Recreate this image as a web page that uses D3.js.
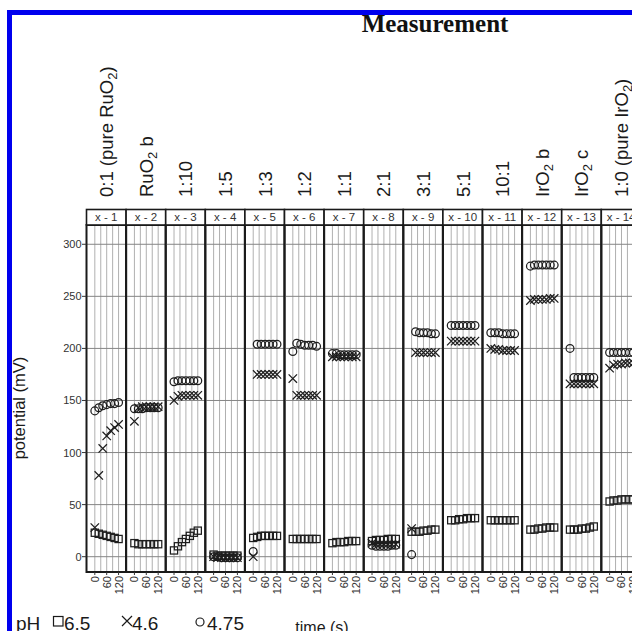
<!DOCTYPE html>
<html>
<head>
<meta charset="utf-8">
<script src="https://cdn.jsdelivr.net/npm/d3@7"></script>
<style>
html,body{margin:0;padding:0;background:#fff;overflow:hidden;}
svg{display:block;}
</style>
</head>
<body>
<svg id="chart" width="632" height="631"></svg>
<script>
// ---- data ----
const panels = ["x - 1","x - 2","x - 3","x - 4","x - 5","x - 6","x - 7","x - 8","x - 9","x - 10","x - 11","x - 12","x - 13","x - 14"];
const ratioLabels = ["0:1 (pure RuO_2)","RuO_2 b","1:10","1:5","1:3","1:2","1:1","2:1","3:1","5:1","10:1","IrO_2 b","IrO_2 c","1:0 (pure IrO_2)"];
const times = [0, 20, 40, 60, 80, 100, 120];
const timeTicks = [0, 60, 120];
const timeGrid = [0, 30, 60, 90, 120];
const yTicks = [0, 50, 100, 150, 200, 250, 300];
// pH 6.5 (squares)
const pH65 = [
  [23, 22, 21, 20, 19, 18, 17],
  [13, 12, 12, 12, 12, 12, 12],
  [6, 10, 14, 17, 20, 23, 25],
  [2, 1, 1, 1, 1, 1, 1],
  [18, 19, 20, 20, 20, 20, 20],
  [17, 17, 17, 17, 17, 17, 17],
  [13, 14, 14, 14, 15, 15, 15],
  [15, 16, 16, 16, 17, 17, 17],
  [24, 24, 24, 25, 25, 26, 26],
  [35, 35, 36, 36, 37, 37, 37],
  [35, 35, 35, 35, 35, 35, 35],
  [26, 26, 27, 27, 28, 28, 28],
  [26, 26, 26, 27, 27, 28, 29],
  [53, 54, 54, 55, 55, 55, 55]
];
// pH 4.6 (crosses)
const pH46 = [
  [28, 78, 104, 116, 121, 124, 127],
  [130, 143, 144, 144, 144, 144, 144],
  [150, 154, 155, 155, 155, 155, 155],
  [0, -1, -1, -1, -1, -1, -1],
  [0, 175, 175, 175, 175, 175, 175],
  [171, 155, 155, 155, 155, 155, 155],
  [192, 192, 192, 192, 192, 192, 192],
  [13, 12, 12, 12, 12, 12, 12],
  [27, 196, 196, 196, 196, 196, 196],
  [207, 207, 207, 207, 207, 207, 207],
  [200, 199, 199, 198, 198, 198, 198],
  [246, 247, 247, 247, 247, 248, 248],
  [166, 166, 166, 166, 166, 166, 166],
  [181, 184, 185, 185, 186, 186, 186]
];
// pH 4.75 (circles)
const pH475 = [
  [140, 143, 145, 146, 147, 147, 148],
  [142, 142, 142, 143, 143, 143, 143],
  [168, 169, 169, 169, 169, 169, 169],
  [0, 0, -1, -1, -1, -1, -1],
  [5, 204, 204, 204, 204, 204, 204],
  [197, 205, 204, 203, 203, 203, 202],
  [195, 195, 194, 194, 194, 194, 194],
  [11, 10, 10, 10, 10, 11, 11],
  [2, 216, 215, 215, 215, 214, 214],
  [222, 222, 222, 222, 222, 222, 222],
  [215, 215, 215, 214, 214, 214, 214],
  [279, 280, 280, 280, 280, 280, 280],
  [200, 172, 172, 172, 172, 172, 172],
  [196, 196, 196, 196, 196, 196, 196]
];
const legendItems = [
  {label: "6.5", shape: "square"},
  {label: "4.6", shape: "cross"},
  {label: "4.75", shape: "circle"}
];

// ---- drawing ----
const svg = d3.select("#chart");
const plotTop = 225, plotBottom = 572, stripTop = 209.5;
const px = d3.scaleBand().domain(panels).range([86.5, 86.5 + 14 * 39.6]).padding(0);
const pw = px.bandwidth();
const xs = d3.scaleLinear().domain([-42, 158]).range([0, pw]);
const y = d3.scaleLinear().domain([-14.7, 318.5]).range([plotBottom, plotTop]);
const ink = "#1e1e1e";
const sans = "Liberation Sans, Arial, sans-serif";

// blue frame
svg.append("rect").attr("x", 9.5).attr("y", 12.5).attr("width", 700).attr("height", 700)
  .attr("fill", "none").attr("stroke", "#0000ee").attr("stroke-width", 5);

// title
svg.append("text").attr("x", 435).attr("y", 32).attr("text-anchor", "middle")
  .attr("font-family", "Liberation Serif, Times New Roman, serif").attr("font-weight", "bold")
  .attr("font-size", 25).attr("fill", "#111").text("Measurement");

const series = [
  {data: pH65, shape: "square"},
  {data: pH46, shape: "cross"},
  {data: pH475, shape: "circle"}
];

function drawMarker(g, shape, cx, cy) {
  if (shape === "square") {
    g.append("rect").attr("x", cx - 3.6).attr("y", cy - 3.6).attr("width", 7.2).attr("height", 7.2)
      .attr("fill", "none").attr("stroke", ink).attr("stroke-width", 1.25);
  } else if (shape === "cross") {
    const r = 4.2;
    g.append("path").attr("d", `M${cx - r},${cy - r}L${cx + r},${cy + r}M${cx - r},${cy + r}L${cx + r},${cy - r}`)
      .attr("fill", "none").attr("stroke", ink).attr("stroke-width", 1.25);
  } else {
    g.append("circle").attr("cx", cx).attr("cy", cy).attr("r", 3.9)
      .attr("fill", "none").attr("stroke", ink).attr("stroke-width", 1.25);
  }
}

panels.forEach((p, i) => {
  const x0 = px(p);
  const g = svg.append("g").attr("transform", `translate(${x0},0)`);
  // grid
  timeGrid.forEach(t => {
    g.append("line").attr("x1", xs(t)).attr("x2", xs(t)).attr("y1", plotTop).attr("y2", plotBottom)
      .attr("stroke", "#b0b0b0").attr("stroke-width", 1);
  });
  yTicks.forEach(v => {
    g.append("line").attr("x1", 0).attr("x2", pw).attr("y1", y(v)).attr("y2", y(v))
      .attr("stroke", "#858585").attr("stroke-width", 1);
  });
  // data
  series.forEach(s => {
    s.data[i].forEach((v, k) => drawMarker(g, s.shape, xs(times[k]), y(v)));
  });
  // panel frame
  g.append("rect").attr("x", 0).attr("y", plotTop).attr("width", pw).attr("height", plotBottom - plotTop)
    .attr("fill", "none").attr("stroke", "#1a1a1a").attr("stroke-width", 2);
  // strip
  g.append("rect").attr("x", 0).attr("y", stripTop).attr("width", pw).attr("height", plotTop - stripTop)
    .attr("fill", "#fff").attr("stroke", "#1a1a1a").attr("stroke-width", 1.6);
  g.append("text").attr("x", pw / 2).attr("y", (stripTop + plotTop) / 2).attr("dy", "0.36em")
    .attr("text-anchor", "middle").attr("font-family", sans)
    .attr("font-size", 11.5).attr("fill", "#333").text(p);
  // x ticks
  timeTicks.forEach(t => {
    g.append("line").attr("x1", xs(t)).attr("x2", xs(t)).attr("y1", plotBottom).attr("y2", plotBottom + 3)
      .attr("stroke", "#333").attr("stroke-width", 1);
    g.append("text").attr("transform", `translate(${xs(t)},${plotBottom + 4}) rotate(-90)`)
      .attr("dy", "0.36em").attr("text-anchor", "end")
      .attr("font-family", sans).attr("font-size", 11).attr("fill", "#333")
      .text(t);
  });
  // ratio label
  const lab = g.append("text").attr("transform", `translate(${pw / 2 + 6.8},197) rotate(-90)`)
    .attr("text-anchor", "start").attr("font-family", sans)
    .attr("font-size", 18.5).attr("fill", "#1a1a1a");
  const parts = ratioLabels[i].split("_2");
  parts.forEach((part, j) => {
    lab.append("tspan").attr("dy", j > 0 ? -4 : null).text(part);
    if (j < parts.length - 1) lab.append("tspan").attr("font-size", 13).attr("dy", 4).text("2");
  });
});

// y axis
const yAxis = svg.append("g");
yTicks.forEach(v => {
  yAxis.append("line").attr("x1", 82).attr("x2", 86.5).attr("y1", y(v)).attr("y2", y(v))
    .attr("stroke", "#333").attr("stroke-width", 1);
  yAxis.append("text").attr("x", 81.5).attr("y", y(v)).attr("dy", "0.36em").attr("text-anchor", "end")
    .attr("font-family", sans).attr("font-size", 11).attr("fill", "#333").text(v);
});
svg.append("text").attr("transform", "translate(25,408) rotate(-90)").attr("text-anchor", "middle")
  .attr("font-family", sans).attr("font-size", 16.5).attr("fill", "#1a1a1a")
  .text("potential (mV)");

// legend
const lg = svg.append("g").attr("font-family", sans).attr("font-size", 19).attr("fill", "#1a1a1a");
lg.append("text").attr("x", 16).attr("y", 630).text("pH");
const legX = [53, 121, 196];
legendItems.forEach((it, k) => {
  const g = lg.append("g");
  if (it.shape === "square") {
    g.append("rect").attr("x", legX[k] + 0.5).attr("y", 616.5).attr("width", 9.5).attr("height", 9.5)
      .attr("fill", "none").attr("stroke", "#1a1a1a").attr("stroke-width", 1.2);
  } else if (it.shape === "cross") {
    g.append("path").attr("d", `M${legX[k] + 1},${616}L${legX[k] + 11},${626}M${legX[k] + 1},${626}L${legX[k] + 11},${616}`)
      .attr("stroke", "#1a1a1a").attr("stroke-width", 1.2);
  } else {
    g.append("circle").attr("cx", legX[k] + 4).attr("cy", 622).attr("r", 4)
      .attr("fill", "none").attr("stroke", "#1a1a1a").attr("stroke-width", 1.2);
  }
  lg.append("text").attr("x", legX[k] + 11).attr("y", 630).text(it.label);
});
svg.append("text").attr("x", 322).attr("y", 633).attr("text-anchor", "middle")
  .attr("font-family", sans).attr("font-size", 16).attr("fill", "#1a1a1a")
  .text("time (s)");
</script>
</body>
</html>
